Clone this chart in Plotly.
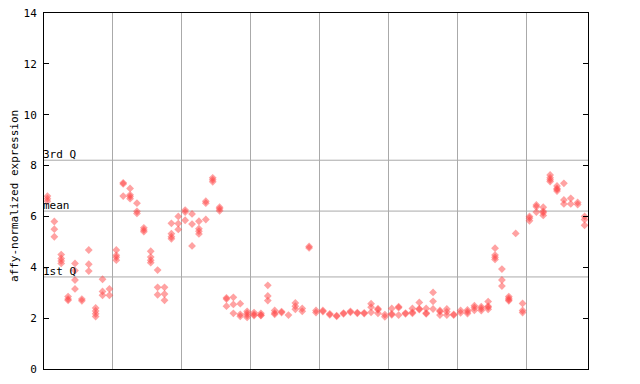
import plotly.graph_objects as go

# expression values per sample column (index 0..78)
sample_values = [
    [6.8, 6.7, 6.6], [5.8, 5.5, 5.2], [4.5, 4.35, 4.25, 4.15], [2.85, 2.75, 2.7],
    [4.15, 3.87, 3.5, 3.15], [2.75, 2.68], [4.68, 4.12, 3.85], [2.4, 2.28, 2.17, 2.06],
    [3.53, 3.05, 2.9], [3.15, 2.9], [4.68, 4.47, 4.39, 4.28], [7.32, 7.28, 6.8],
    [7.1, 6.85, 6.78, 6.7], [6.52, 6.2, 6.12], [5.55, 5.47, 5.4], [4.63, 4.4, 4.28, 4.18],
    [3.89, 3.21, 2.92], [3.21, 2.95, 2.7], [5.73, 5.32, 5.2, 5.12], [6.0, 5.72, 5.49],
    [6.25, 6.17, 5.85], [6.1, 5.7, 4.84], [5.81, 5.52, 5.42, 5.31], [6.6, 6.52, 5.88],
    [7.52, 7.44, 7.36], [6.36, 6.3, 6.22], [2.8, 2.75, 2.47], [2.82, 2.54, 2.19],
    [2.57, 2.15, 2.07], [2.27, 2.19, 2.11, 2.03], [2.22, 2.14, 2.1], [2.19, 2.12, 2.1],
    [3.29, 2.87, 2.69], [2.3, 2.2, 2.15], [2.26, 2.22], [2.12],
    [2.6, 2.47, 2.35], [2.38, 2.27], [4.82, 4.76], [2.3, 2.22],
    [2.3, 2.26], [2.17, 2.13], [2.1, 2.07], [2.2, 2.17],
    [2.27, 2.23], [2.22, 2.19], [2.21, 2.18], [2.57, 2.43, 2.23],
    [2.37, 2.33, 2.19], [2.14, 2.05], [2.38, 2.17, 2.13], [2.45, 2.41, 2.12],
    [2.2, 2.17], [2.38, 2.23, 2.19], [2.62, 2.37, 2.34], [2.38, 2.2, 2.17],
    [3.01, 2.66, 2.36], [2.3, 2.26, 2.12], [2.36, 2.25, 2.12], [2.15, 2.12],
    [2.3, 2.21], [2.32, 2.25, 2.18], [2.49, 2.41, 2.31], [2.45, 2.38, 2.3],
    [2.65, 2.47, 2.43, 2.35], [4.75, 4.48, 4.39, 4.31], [3.93, 3.5, 3.26], [2.85, 2.78, 2.72, 2.68],
    [5.33], [2.58, 2.3, 2.22], [6.0, 5.93, 5.83], [6.45, 6.38, 6.17],
    [6.36, 6.2, 6.14, 6.04], [7.63, 7.52, 7.44, 7.37], [7.2, 7.1, 7.06, 7.0], [7.3, 6.65, 6.49],
    [6.71, 6.49], [6.55, 6.47], [6.0, 5.88, 5.65],
]

group_boundaries = [9.5, 19.5, 29.5, 39.5, 49.5, 59.5, 69.5]
y_ticks = [0, 2, 4, 6, 8, 10, 12, 14]
stat_names = ["3rd Q", "mean", "1st Q"]
stat_values = [8.21, 6.21, 3.62]
y_title = "affy-normalized expression"

xs, ys = [], []
for i, vals in enumerate(sample_values):
    for v in vals:
        xs.append(i)
        ys.append(v)

font = dict(family="DejaVu Sans Mono", size=11, color="black")

fig = go.Figure()
fig.add_trace(go.Scatter(
    x=xs, y=ys, mode="markers",
    marker=dict(symbol="diamond", size=6, color="rgb(255,70,70)", opacity=0.5,
                line=dict(width=0)),
    showlegend=False, hoverinfo="skip",
))

for name, val in zip(stat_names, stat_values):
    fig.add_shape(type="line", xref="paper", x0=0, x1=1, yref="y", y0=val, y1=val,
                  line=dict(color="#aaaaaa", width=1), layer="below")
    fig.add_annotation(xref="paper", x=0, yref="y", y=val, text=name, showarrow=False,
                       xanchor="left", yanchor="bottom", font=font, xshift=-3, yshift=-3)

fig.add_annotation(xref="paper", x=0, yref="paper", y=0.5, text=y_title, showarrow=False,
                   textangle=-90, xanchor="center", yanchor="middle", font=font,
                   xshift=-30, yshift=-5)

# page body has an 8px margin, so the figure is offset by 8px; margins compensate
fig.update_layout(
    width=640, height=384,
    margin=dict(l=36, r=60, t=5, b=23),
    plot_bgcolor="white", paper_bgcolor="white",
    font=font,
    xaxis=dict(range=[-0.5, 78.5], tickvals=group_boundaries, showticklabels=False,
               ticks="", showgrid=True, gridcolor="#aaaaaa", gridwidth=1, automargin=False,
               showline=True, linecolor="black", linewidth=1, mirror=True, zeroline=False),
    yaxis=dict(range=[0, 14], tickvals=y_ticks, ticks="inside", ticklen=5,
               tickcolor="black", showgrid=False, zeroline=False, automargin=False,
               ticklabelstandoff=4, ticklabeloverflow="allow",
               showline=True, linecolor="black", linewidth=1, mirror="ticks"),
)

fig.write_html("out.html")
